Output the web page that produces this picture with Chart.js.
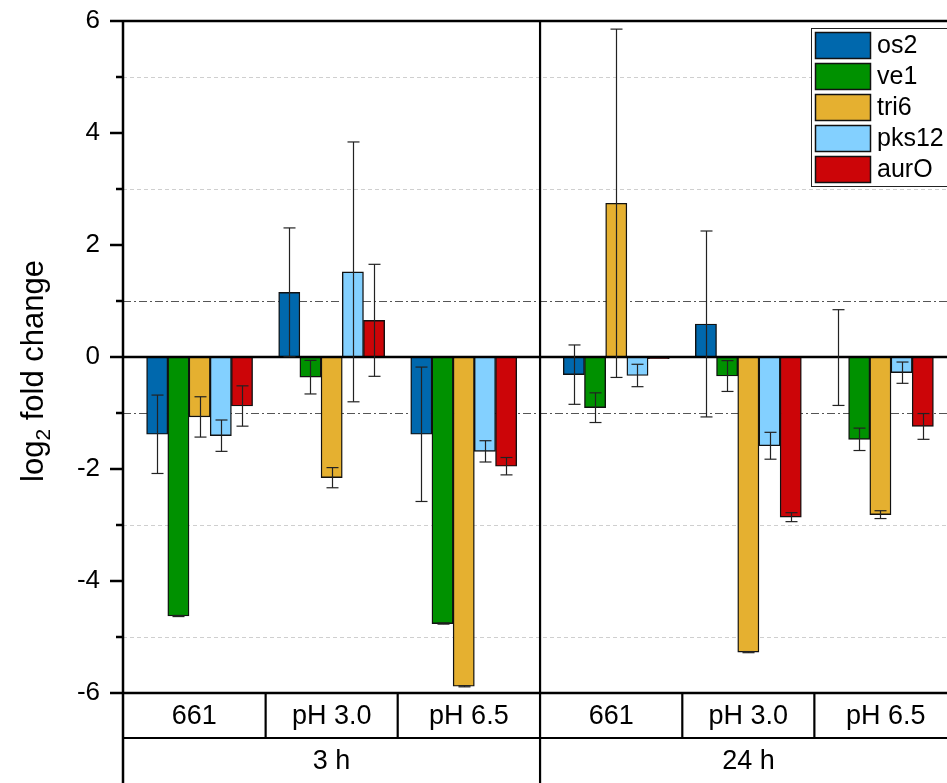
<!DOCTYPE html>
<html>
<head>
<meta charset="utf-8">
<title>log2 fold change</title>
<script src="https://cdn.jsdelivr.net/npm/chart.js@4.4.0/dist/chart.umd.min.js"></script>
<style>
  html, body { margin: 0; padding: 0; background: #fff; overflow: hidden; }
  #wrap { width: 980px; height: 783px; }
</style>
</head>
<body>
<div id="wrap"><canvas id="chart" width="980" height="783"></canvas></div>
<script>
// conditions along the x axis, grouped by sampling time
const conditions = ['661', 'pH 3.0', 'pH 6.5', '661', 'pH 3.0', 'pH 6.5'];
const timepoints = ['3 h', '24 h'];
const xPos = [1, 2, 3, 4.155, 5.155, 6.155];
const groupEdges = [0.42, 3.578, 6.735];

const genes = ['os2', 've1', 'tri6', 'pks12', 'aurO'];
const geneColors = ['#0068ad', '#009100', '#e5b030', '#83d0ff', '#cc0508'];

// mean log2 fold change and error per gene, one entry per condition
const os2 = [-1.38, 1.155, -1.38, -0.315, 0.59, -0.01];
const os2Err = [0.70, 1.15, 1.20, 0.53, 1.66, 0.855];
const ve1 = [-4.625, -0.36, -4.76, -0.905, -0.34, -1.47];
const ve1Err = [0.01, 0.30, 0.01, 0.265, 0.275, 0.20];
const tri6 = [-1.07, -2.155, -5.88, 2.745, -5.27, -2.815];
const tri6Err = [0.36, 0.18, 0.01, 3.11, 0.01, 0.07];
const pks12 = [-1.405, 1.52, -1.685, -0.33, -1.585, -0.28];
const pks12Err = [0.28, 2.32, 0.19, 0.20, 0.24, 0.19];
const aurO = [-0.875, 0.655, -1.95, -0.03, -2.86, -1.24];
const aurOErr = [0.36, 1.00, 0.155, 0.0, 0.08, 0.23];

const yTicks = [-6, -4, -2, 0, 2, 4, 6];

const FONT = '"Liberation Sans", Arial, sans-serif';
const seriesValues = [os2, ve1, tri6, pks12, aurO];
const seriesErrors = [os2Err, ve1Err, tri6Err, pks12Err, aurOErr];

const datasets = genes.map((g, k) => ({
    label: g,
    data: xPos.map((x, i) => ({ x: x, y: seriesValues[k][i] })),
    errors: seriesErrors[k],
    backgroundColor: geneColors[k],
    borderColor: '#111',
    borderWidth: 1.4,
    borderSkipped: false,
    barThickness: 21.2
}));

function line(ctx, x1, y1, x2, y2) {
    ctx.beginPath();
    ctx.moveTo(x1, y1);
    ctx.lineTo(x2, y2);
    ctx.stroke();
}

// reference lines behind the bars
const gridLines = {
    id: 'gridLines',
    beforeDatasetsDraw(chart) {
        const { ctx, chartArea: a, scales: { y } } = chart;
        ctx.save();
        ctx.lineWidth = 1;
        [-5, -3, 3, 5].forEach(v => {
            ctx.strokeStyle = '#cfcfcf';
            ctx.setLineDash([4, 3]);
            const py = Math.round(y.getPixelForValue(v)) + 0.5;
            line(ctx, a.left, py, a.right, py);
        });
        [-1, 1].forEach(v => {
            ctx.strokeStyle = '#555';
            ctx.setLineDash([8, 3, 2, 3]);
            const py = Math.round(y.getPixelForValue(v)) + 0.5;
            line(ctx, a.left, py, a.right, py);
        });
        ctx.restore();
    }
};

// zero line, error bars and the divider between time points
const errorBars = {
    id: 'errorBars',
    afterDatasetsDraw(chart) {
        const { ctx, chartArea: a, scales: { x, y } } = chart;
        ctx.save();
        ctx.strokeStyle = '#000';
        ctx.lineWidth = 2.5;
        const y0 = y.getPixelForValue(0);
        line(ctx, a.left, y0, a.right, y0);

        ctx.lineWidth = 1.2;
        ctx.strokeStyle = '#222';
        chart.data.datasets.forEach((ds, k) => {
            const meta = chart.getDatasetMeta(k);
            meta.data.forEach((bar, i) => {
                const v = ds.data[i].y, e = ds.errors[i];
                if (!e) return;
                const top = y.getPixelForValue(v + e);
                const bot = y.getPixelForValue(v - e);
                const bx = Math.round(bar.x) + 0.5;
                line(ctx, bx, top, bx, bot);
                line(ctx, bx - 6, top, bx + 6, top);
                line(ctx, bx - 6, bot, bx + 6, bot);
            });
        });

        ctx.strokeStyle = '#000';
        ctx.lineWidth = 2.2;
        const dx = x.getPixelForValue(groupEdges[1]);
        line(ctx, dx, a.top, dx, chart.height);
        ctx.restore();
    }
};

// frame, tick marks, category table, legend and axis title
const decorations = {
    id: 'decorations',
    afterDraw(chart) {
        const { ctx, chartArea: a, scales: { x, y } } = chart;
        ctx.save();
        ctx.strokeStyle = '#000';
        ctx.lineWidth = 2.5;
        line(ctx, a.left, a.top, a.right, a.top);
        line(ctx, a.left, a.top - 1, a.left, chart.height);

        for (let v = -6; v <= 6; v++) {
            const py = y.getPixelForValue(v);
            const len = v % 2 === 0 ? 13 : 7;
            line(ctx, a.left - len, py, a.left, py);
        }

        // two-row table under the plot
        const rowH = 45;
        const r1 = a.bottom, r2 = a.bottom + rowH;
        line(ctx, a.left, r1, a.right, r1);
        ctx.lineWidth = 2.2;
        line(ctx, a.left, r2, a.right, r2);
        ctx.fillStyle = '#000';
        ctx.textAlign = 'center';
        ctx.textBaseline = 'middle';
        ctx.font = '27px ' + FONT;
        conditions.forEach((c, i) => {
            const g = i < 3 ? 0 : 1;
            const lo = (i % 3 === 0) ? groupEdges[g] : (xPos[i - 1] + xPos[i]) / 2;
            const hi = (i % 3 === 2) ? groupEdges[g + 1] : (xPos[i] + xPos[i + 1]) / 2;
            const pl = x.getPixelForValue(lo), ph = x.getPixelForValue(hi);
            if (i % 3 !== 2) line(ctx, ph, r1, ph, r2);
            ctx.fillText(c, (pl + ph) / 2, r1 + rowH / 2 + 1);
        });
        timepoints.forEach((t, g) => {
            const cx = (x.getPixelForValue(groupEdges[g]) + x.getPixelForValue(groupEdges[g + 1])) / 2;
            ctx.fillText(t, cx, r2 + 24);
        });

        // legend box in the upper right corner
        const lx = 811, ly = 28, pitch = 31;
        ctx.fillStyle = '#fff';
        ctx.fillRect(lx, ly, a.right - lx, 159);
        ctx.lineWidth = 1;
        ctx.strokeStyle = '#222';
        ctx.strokeRect(lx + 0.5, ly + 0.5, a.right - lx, 158);
        ctx.textAlign = 'left';
        ctx.font = '25px ' + FONT;
        chart.data.datasets.forEach((ds, k) => {
            const sy = ly + 4 + k * pitch;
            ctx.fillStyle = ds.backgroundColor;
            ctx.fillRect(lx + 4, sy, 56, 27);
            ctx.lineWidth = 1.5;
            ctx.strokeStyle = '#111';
            ctx.strokeRect(lx + 4.5, sy + 0.5, 55, 26);
            ctx.fillStyle = '#000';
            ctx.fillText(ds.label, lx + 66, sy + 14);
        });

        // rotated title with a subscript 2
        const big = '31px ' + FONT, small = '21px ' + FONT;
        ctx.font = big;
        const w1 = ctx.measureText('log').width;
        const w3 = ctx.measureText(' fold change').width;
        ctx.font = small;
        const w2 = ctx.measureText('2').width;
        const total = w1 + w2 + w3;
        ctx.translate(43, 371);
        ctx.rotate(-Math.PI / 2);
        ctx.textBaseline = 'alphabetic';
        ctx.font = big;
        ctx.fillText('log', -total / 2, 0);
        ctx.font = small;
        ctx.fillText('2', -total / 2 + w1, 7);
        ctx.font = big;
        ctx.fillText(' fold change', -total / 2 + w1 + w2, 0);
        ctx.restore();
    }
};

new Chart(document.getElementById('chart'), {
    type: 'bar',
    data: { datasets: datasets },
    plugins: [gridLines, errorBars, decorations],
    options: {
        responsive: false,
        animation: false,
        devicePixelRatio: 1,
        layout: { padding: { top: 21, right: 23, bottom: 90, left: 0 } },
        plugins: { legend: { display: false }, tooltip: { enabled: false } },
        scales: {
            x: {
                type: 'linear',
                display: false,
                offset: false,
                bounds: 'data',
                min: groupEdges[0],
                max: groupEdges[2],
                ticks: { stepSize: 10 }
            },
            y: {
                min: -6,
                max: 6,
                afterFit(scale) {
                    scale.width = 123;
                    scale.paddingTop = 0;
                    scale.paddingBottom = 0;
                },
                afterBuildTicks(scale) { scale.ticks = yTicks.map(v => ({ value: v })); },
                grid: { display: false },
                border: { display: false },
                ticks: {
                    color: '#000',
                    padding: 15,
                    font: { size: 26, family: FONT }
                }
            }
        }
    }
});
</script>
</body>
</html>
